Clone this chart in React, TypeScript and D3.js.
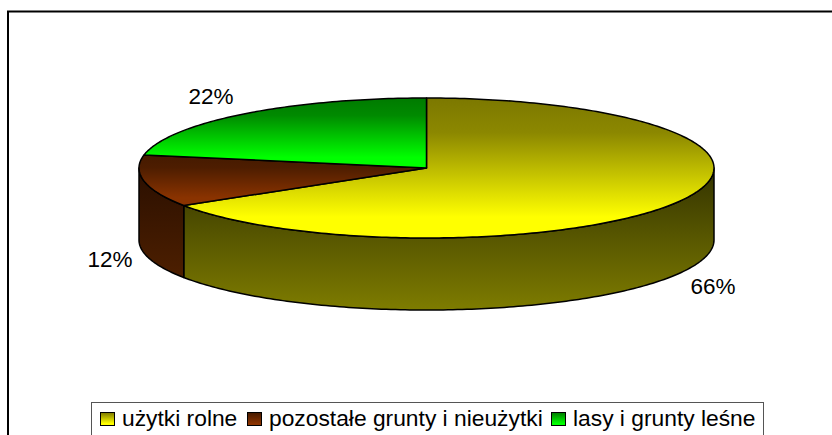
import React from "react";
import * as d3 from "d3";

const categories = ["użytki rolne", "pozostałe grunty i nieużytki", "lasy i grunty leśne"];
const values = [66, 12, 22];
const labels = ["66%", "12%", "22%"];
const topLight = ["#ffff00", "#8a3300", "#00ff00"];
const topDark = ["#7c7800", "#451a00", "#007a00"];
const sideTop = ["#333300", "#2a0f00", "#003300"];
const sideBottom = ["#7e7c00", "#4d1f00", "#008000"];
const labelX = [713, 110, 211];
const labelY = [294, 267, 104];
const legendX = [100, 247, 551];

const W = 832, H = 435;
const cx = 426.5, cy = 168, rx = 287.5, ry = 70, depth = 72;

const px = d3.scaleLinear().domain([-1, 1]).range([cx - rx, cx + rx]);
const py = d3.scaleLinear().domain([-1, 1]).range([cy - ry, cy + ry]);
const pie = d3.pie<number>().sort(null).startAngle(0).endAngle(2 * Math.PI);
const arcs = pie(values);
const line = d3.line<[number, number]>();

const rim = (a0: number, a1: number, dy = 0): [number, number][] => {
  const n = Math.max(2, Math.ceil((a1 - a0) * 60));
  return d3.range(n + 1).map((i) => {
    const a = a0 + ((a1 - a0) * i) / n;
    return [px(Math.sin(a)), py(-Math.cos(a)) + dy] as [number, number];
  });
};
const topPts = (a0: number, a1: number): [number, number][] => [[cx, cy], ...rim(a0, a1)];
const sidePts = (a0: number, a1: number): [number, number][] => {
  const lo = Math.max(a0, Math.PI / 2);
  const hi = Math.min(a1, (3 * Math.PI) / 2);
  if (hi <= lo) return [];
  return [...rim(lo, hi), ...rim(lo, hi, depth).reverse()];
};

export default function App() {
  const font = '"Liberation Sans", Arial, sans-serif';
  return (
    <svg
      width={W}
      height={H}
      style={{ position: "absolute", left: 0, top: 0, display: "block" }}
      fontFamily={font}
    >
      <defs>
        {arcs.map((a, i) => {
          const ys = topPts(a.startAngle, a.endAngle).map((p) => p[1]);
          const ss = sidePts(a.startAngle, a.endAngle).map((p) => p[1]);
          return (
            <React.Fragment key={i}>
              <linearGradient id={`t${i}`} gradientUnits="userSpaceOnUse" x1="0" x2="0" y1={d3.min(ys)} y2={d3.max(ys)}>
                <stop offset="0" stopColor={topDark[i]} />
                <stop offset="0.25" stopColor={d3.interpolateRgb(topDark[i], topLight[i])(0.12)} />
                <stop offset="0.85" stopColor={topLight[i]} />
              </linearGradient>
              {ss.length > 0 && (
                <linearGradient id={`s${i}`} gradientUnits="userSpaceOnUse" x1="0" x2="0" y1={d3.min(ss)} y2={d3.max(ss)}>
                  <stop offset="0" stopColor={sideTop[i]} />
                  <stop offset="1" stopColor={sideBottom[i]} />
                </linearGradient>
              )}
              <linearGradient id={`l${i}`} x1="0" x2="0" y1="0" y2="1">
                <stop offset="0" stopColor={topDark[i]} />
                <stop offset="0.85" stopColor={topLight[i]} />
              </linearGradient>
            </React.Fragment>
          );
        })}
      </defs>
      <rect width={W} height={H} fill="#fff" />
      <path d={`M8,${H}V11.5H${W}`} fill="none" stroke="#000" strokeWidth={2} />
      {arcs.map((a, i) => {
        const s = sidePts(a.startAngle, a.endAngle);
        return s.length ? (
          <path key={i} d={line(s) + "Z"} fill={`url(#s${i})`} stroke="#000" strokeWidth={1.5} strokeLinejoin="round" />
        ) : null;
      })}
      {arcs.map((a, i) => (
        <path key={i} d={line(topPts(a.startAngle, a.endAngle)) + "Z"} fill={`url(#t${i})`} stroke="#000" strokeWidth={1.5} strokeLinejoin="round" />
      ))}
      {labels.map((t, i) => (
        <text key={i} x={labelX[i]} y={labelY[i]} textAnchor="middle" fontSize={22.5} fill="#000">{t}</text>
      ))}
      <rect x={91.5} y={402.5} width={672} height={40} fill="#fff" stroke="#555" strokeWidth={1} />
      {categories.map((c, i) => (
        <g key={i}>
          <rect x={legendX[i] + 0.5} y={412.5} width={14} height={13} fill={`url(#l${i})`} stroke="#000" strokeWidth={1} />
          <text x={legendX[i] + 22} y={426} fontSize={22.8} fill="#000">{c}</text>
        </g>
      ))}
    </svg>
  );
}
